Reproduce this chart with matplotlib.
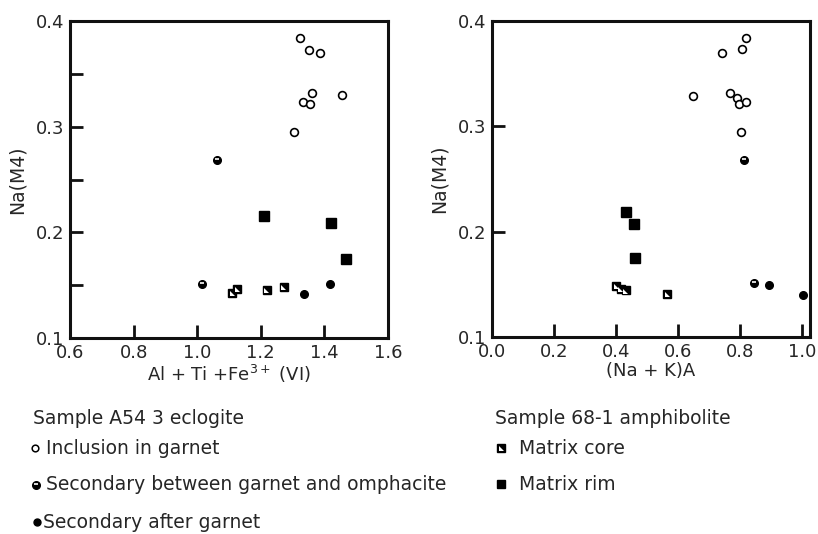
import matplotlib
matplotlib.use('Agg')
import matplotlib.pyplot as plt
from matplotlib import transforms
from matplotlib.ticker import MultipleLocator

plt.rcParams['font.family'] = ['DejaVu Sans']
plt.rcParams['mathtext.default'] = 'regular'

# left panel: Sample A54 3 eclogite vs Al + Ti + Fe3+ (VI)
inc_x = [1.322, 1.353, 1.387, 1.361, 1.455, 1.333, 1.354, 1.304]
inc_y = [0.384, 0.373, 0.370, 0.332, 0.330, 0.3235, 0.321, 0.295]
sec_between_x = [1.061, 1.016]
sec_between_y = [0.268, 0.151]
sec_after_x = [1.417, 1.336]
sec_after_y = [0.151, 0.142]
core_x = [1.110, 1.125, 1.219, 1.272]
core_y = [0.1425, 0.1467, 0.1457, 0.1487]
rim_x = [1.209, 1.422, 1.469]
rim_y = [0.2155, 0.2085, 0.175]

# right panel: same analyses vs (Na + K)A
inc2_x = [0.818, 0.806, 0.742, 0.767, 0.648, 0.791, 0.796, 0.819, 0.802]
inc2_y = [0.384, 0.373, 0.370, 0.332, 0.329, 0.327, 0.321, 0.323, 0.295]
sec_between2_x = [0.811, 0.844]
sec_between2_y = [0.268, 0.151]
sec_after2_x = [0.892, 1.001]
sec_after2_y = [0.149, 0.140]
core2_x = [0.401, 0.415, 0.431, 0.565]
core2_y = [0.1487, 0.1457, 0.1445, 0.141]
rim2_x = [0.433, 0.459, 0.462]
rim2_y = [0.219, 0.2075, 0.175]

TXT = '#262626'
TRI = [(-1, -1), (-1, 1), (1, -1)]


def half_circle(ax, x, y, fig):
    ax.plot(x, y, 'o', ms=5.5, color='black', ls='none', zorder=3)
    up = transforms.offset_copy(ax.transData, fig=fig, y=1.5, units='dots')
    ax.plot(x, y, '_', ms=2.6, mew=1.2, color='white', ls='none', transform=up, zorder=4)


def core_square(ax, x, y, fig):
    ax.plot(x, y, 's', ms=6, color='black', ls='none', zorder=3)
    dn = transforms.offset_copy(ax.transData, fig=fig, x=-0.4, y=-0.4, units='dots')
    ax.plot(x, y, marker=TRI, ms=3.6, color='white', mew=0, ls='none', transform=dn, zorder=4)


def draw_panel(ax, fig, ix, iy, bx, by, ax_, ay, cx, cy, rx, ry):
    ax.plot(ix, iy, 'o', ms=5.6, mfc='white', mec='black', mew=1.2, ls='none', zorder=3)
    half_circle(ax, bx, by, fig)
    ax.plot(ax_, ay, 'o', ms=5.5, color='black', ls='none', zorder=3)
    core_square(ax, cx, cy, fig)
    ax.plot(rx, ry, 's', ms=6.5, color='black', ls='none', zorder=3)
    for s in ax.spines.values():
        s.set_linewidth(2.2)
        s.set_color('#111111')
    ax.tick_params(which='both', direction='in', length=9.5, width=2,
                   labelsize=13, labelcolor=TXT, color='#111111', pad=4)


fig = plt.figure(figsize=(8.18, 5.34), dpi=100)

ax1 = fig.add_axes([70 / 818, 1 - 338 / 534, 318 / 818, 317 / 534])
draw_panel(ax1, fig, inc_x, inc_y, sec_between_x, sec_between_y,
           sec_after_x, sec_after_y, core_x, core_y, rim_x, rim_y)
ax1.set_xlim(0.6, 1.6)
ax1.set_ylim(0.1, 0.4)
ax1.xaxis.set_major_locator(MultipleLocator(0.2))
ax1.yaxis.set_major_locator(MultipleLocator(0.1))
ax1.yaxis.set_minor_locator(MultipleLocator(0.05))
ax1.xaxis.set_major_formatter(lambda v, p: f'{v:.1f}')
ax1.yaxis.set_major_formatter(lambda v, p: f'{v:.1f}')
ax1.set_xlabel('Al + Ti +Fe$^{3+}$ (VI)', fontsize=13, color=TXT, labelpad=1)
ax1.set_ylabel('Na(M4)', fontsize=13.5, color=TXT, labelpad=7)

ax2 = fig.add_axes([492 / 818, 1 - 337 / 534, 318 / 818, 316 / 534])
draw_panel(ax2, fig, inc2_x, inc2_y, sec_between2_x, sec_between2_y,
           sec_after2_x, sec_after2_y, core2_x, core2_y, rim2_x, rim2_y)
ax2.set_xlim(0.0, 1.025)
ax2.set_ylim(0.1, 0.4)
ax2.xaxis.set_major_locator(MultipleLocator(0.2))
ax2.yaxis.set_major_locator(MultipleLocator(0.1))
ax2.xaxis.set_major_formatter(lambda v, p: f'{v:.1f}')
ax2.yaxis.set_major_formatter(lambda v, p: f'{v:.1f}')
ax2.set_xlabel('(Na + K)A', fontsize=13, color=TXT, labelpad=1)
ax2.set_ylabel('Na(M4)', fontsize=13.5, color=TXT, labelpad=7)

# legend drawn in pixel space below the panels
leg = fig.add_axes([0, 0, 1, 1], facecolor='none')
leg.set_axis_off()
leg.set_xlim(0, 818)
leg.set_ylim(534, 0)

fs = 13.5
fig.text(33 / 818, 1 - 418 / 534, 'Sample A54 3 eclogite', fontsize=fs, color=TXT, va='center')
fig.text(495 / 818, 1 - 418 / 534, 'Sample 68-1 amphibolite', fontsize=fs, color=TXT, va='center')

leg.plot([35], [448], 'o', ms=4.8, mfc='white', mec='black', mew=1.1)
fig.text(46 / 818, 1 - 448 / 534, 'Inclusion in garnet', fontsize=fs, color=TXT, va='center')
half_circle(leg, [36], [485], fig)
fig.text(46 / 818, 1 - 485 / 534, 'Secondary between garnet and omphacite', fontsize=fs, color=TXT, va='center')
leg.plot([37], [522], 'o', ms=5, color='black')
fig.text(43 / 818, 1 - 522 / 534, 'Secondary after garnet', fontsize=fs, color=TXT, va='center')

core_square(leg, [501], [448], fig)
fig.text(519 / 818, 1 - 448 / 534, 'Matrix core', fontsize=fs, color=TXT, va='center')
leg.plot([501], [484], 's', ms=6, color='black')
fig.text(519 / 818, 1 - 484 / 534, 'Matrix rim', fontsize=fs, color=TXT, va='center')

fig.savefig('out.png', dpi=100)
